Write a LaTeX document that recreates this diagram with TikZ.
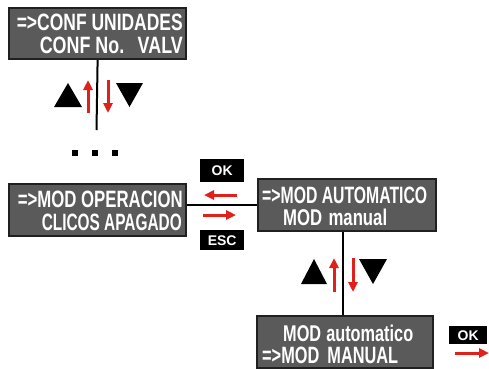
\documentclass[tikz,border=0pt]{standalone}
\usepackage{fontspec}
\usepackage{graphicx}
\usetikzlibrary{arrows.meta}
\newfontfamily\lcdfont[FakeStretch=0.8]{Liberation Sans}
\setsansfont{Liberation Sans}
\definecolor{lcdgray}{HTML}{5A5A5A}
\definecolor{lcdedge}{HTML}{202020}
\definecolor{arrred}{HTML}{E0201B}
\newcommand{\lcdline}[3][16.5]{\resizebox{#2pt}{#1pt}{\fontsize{12}{12}\selectfont\lcdfont\bfseries #3}}
\begin{document}
\begin{tikzpicture}[x=1pt,y=-1pt,
 lcdbox/.style={draw=lcdedge, line width=2.2pt, fill=lcdgray, inner sep=0pt, anchor=north west},
 lcdtxt/.style={inner sep=0pt, text=white, text height=16pt, text depth=0pt},
 keybox/.style={fill=black, text=white, inner sep=0pt, anchor=north west, font=\fontsize{14}{14}\selectfont\sffamily\bfseries},
 redarrow/.style={draw=arrred, line width=3pt, -{Triangle[length=10pt,width=9pt]}},
 link/.style={line width=2pt, draw=black}]
\useasboundingbox (0,0) rectangle (489,368);
% boxes
\node[lcdbox, minimum width=177pt, minimum height=51pt] (b1) at (8,7) {};
\node[lcdbox, minimum width=177pt, minimum height=52pt] (b2) at (8,183) {};
\node[lcdbox, minimum width=178pt, minimum height=52pt] (b3) at (257,178) {};
\node[lcdbox, minimum width=176pt, minimum height=52pt] (b4) at (256,315) {};
% texts
\node[lcdtxt, anchor=base east] (t1a) at (183,30) {\lcdline{166}{=>CONF UNIDADES}};
\node[lcdtxt, anchor=base east] (t1b) at (183,53) {\lcdline{143}{CONF No.\hspace{0.6em}VALV}};
\node[lcdtxt, anchor=base east] (t2a) at (183,207) {\lcdline{165}{=>MOD OPERACION}};
\node[lcdtxt, anchor=base east] (t2b) at (182,230) {\lcdline{140}{CLICOS APAGADO}};
\node[lcdtxt, anchor=base west] (t3a) at (262,203) {\lcdline{165}{=>MOD AUTOMATICO}};
\node[lcdtxt, anchor=base west] (t3b) at (283,225) {\lcdline{104}{MOD\hspace{0.3em}manual}};
\node[lcdtxt, anchor=base west] (t4a) at (283,341) {\lcdline{130}{MOD\hspace{0.25em}automatico}};
\node[lcdtxt, anchor=base west] (t4b) at (262,363) {\lcdline{136}{=>MOD\hspace{0.4em}MANUAL}};
% connectors
\coordinate (c1) at (96.5,130);
\draw[link] (b1.south) -- (c1);
\draw[link] (b2.east |- b3.west) -- (b3.west);
\coordinate (v2) at (343,0);
\draw[link] (b3.south -| v2) -- (b4.north -| v2);
% triangles and red arrows (upper)
\fill (54,107) -- (68,83) -- (82,107) -- cycle;
\fill (116,83) -- (143,83) -- (129.5,107) -- cycle;
\draw[redarrow] (88,113) -- (88,80);
\draw[redarrow] (108,80) -- (108,113);
% dots
\fill (72,150) rectangle +(6,6);
\fill (92,150) rectangle +(6,6);
\fill (112,150) rectangle +(6,6);
% triangles and red arrows (lower)
\fill (301,284) -- (314,259) -- (327,284) -- cycle;
\fill (359,259) -- (387,259) -- (373,284) -- cycle;
\draw[redarrow] (334,292) -- (334,258);
\draw[redarrow] (353,258) -- (353,292);
% keys
\node[keybox, minimum width=44pt, minimum height=23pt] (ok1) at (200,159) {OK};
\node[keybox, minimum width=44pt, minimum height=20pt] (esc) at (200,230) {ESC};
\draw[redarrow] (237,195) -- (204,195);
\draw[redarrow] (203,215) -- (236,215);
\node[keybox, minimum width=38pt, minimum height=18pt] (ok2) at (449,326) {OK};
\draw[redarrow] (455,353) -- (489,353);
\end{tikzpicture}
\end{document}
